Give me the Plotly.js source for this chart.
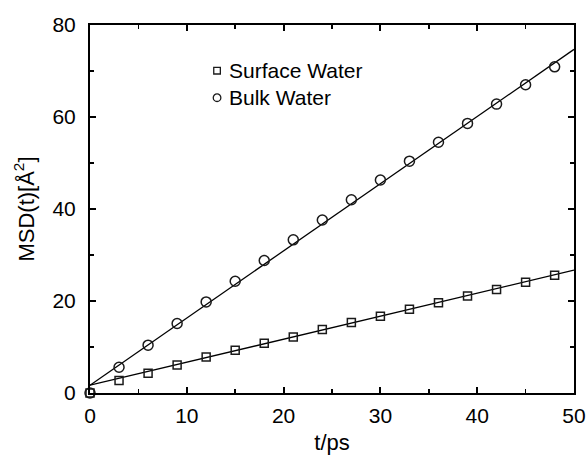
<!DOCTYPE html>
<html>
<head>
<meta charset="utf-8">
<script src="https://cdn.plot.ly/plotly-3.0.1.min.js"></script>
<style>html,body{margin:0;padding:0;background:#fff;}#chart{width:588px;height:455px;}</style>
</head>
<body>
<div id="chart"></div>
<script>
// time points (ps)
const timePs = [0, 3, 6, 9, 12, 15, 18, 21, 24, 27, 30, 33, 36, 39, 42, 45, 48];
// MSD values (Å^2)
const surfaceMSD = [0, 2.7, 4.3, 6.1, 7.8, 9.3, 10.8, 12.2, 13.8, 15.3, 16.7, 18.2, 19.6, 21.1, 22.5, 24.1, 25.6];
const bulkMSD = [0, 5.6, 10.4, 15.1, 19.8, 24.3, 28.8, 33.3, 37.6, 42.0, 46.3, 50.4, 54.5, 58.6, 62.8, 67.0, 70.9];
// linear fit lines (endpoints)
const fitT = [0, 50];
const surfaceFit = [1.7, 26.7];
const bulkFit = [1.7, 74.7];
const seriesNames = ["Surface Water", "Bulk Water"];

const font = "'Liberation Sans', Arial, Helvetica, sans-serif";
const ink = "#1a1a1a";

const traces = [
  {x: fitT, y: surfaceFit, mode: "lines", line: {color: "#000", width: 1.3}, showlegend: false, hoverinfo: "skip"},
  {x: fitT, y: bulkFit, mode: "lines", line: {color: "#000", width: 1.3}, showlegend: false, hoverinfo: "skip"},
  {x: timePs, y: surfaceMSD, mode: "markers", name: seriesNames[0], cliponaxis: false, showlegend: false,
   marker: {symbol: "square-open", size: 8, color: ink, line: {width: 1.5, color: ink}}},
  {x: timePs, y: bulkMSD, mode: "markers", name: seriesNames[1], cliponaxis: false, showlegend: false,
   marker: {symbol: "circle-open", size: 10, color: ink, line: {width: 1.5, color: ink}}}
];

const axisCommon = {
  showgrid: false, zeroline: false, showline: true, linecolor: "#000", linewidth: 2,
  mirror: "allticks", ticks: "inside", tickcolor: "#000", tickwidth: 2, ticklen: 6,
  tickfont: {family: font, size: 21, color: "#000"},
  minor: {ticks: "inside", ticklen: 4, tickwidth: 1.5, tickcolor: "#000"}
};

// legend drawn manually (paper coordinates)
const legX = 0.2625, legTextX = 0.2879, legY = [0.8758, 0.8024];
const layout = {
  width: 588, height: 455,
  margin: {l: 89.5, r: 14, t: 25, b: 62},
  paper_bgcolor: "#fff", plot_bgcolor: "#fff",
  font: {family: font, color: "#000"},
  showlegend: false,
  xaxis: Object.assign({}, axisCommon, {
    range: [0, 50], tickvals: [0, 10, 20, 30, 40, 50], ticklabelstandoff: 3,
    minor: Object.assign({}, axisCommon.minor, {dtick: 5, tick0: 0}),
    title: {text: "t/ps", font: {family: font, size: 22, color: "#000"}, standoff: 16}
  }),
  yaxis: Object.assign({}, axisCommon, {
    range: [0, 80], tickvals: [0, 20, 40, 60, 80], ticklabelstandoff: 8,
    minor: Object.assign({}, axisCommon.minor, {dtick: 10, tick0: 0}),
    title: {text: "MSD(t)[Å<sup>2</sup>]", font: {family: font, size: 22, color: "#000"}, standoff: 12}
  }),
  shapes: [
    {type: "rect", xref: "paper", yref: "paper", xsizemode: "pixel", ysizemode: "pixel",
     xanchor: legX, yanchor: legY[0], x0: -3.3, x1: 3.3, y0: -3.3, y1: 3.3,
     line: {color: ink, width: 1.3}, fillcolor: "rgba(0,0,0,0)"},
    {type: "circle", xref: "paper", yref: "paper", xsizemode: "pixel", ysizemode: "pixel",
     xanchor: legX, yanchor: legY[1], x0: -3.8, x1: 3.8, y0: -3.8, y1: 3.8,
     line: {color: ink, width: 1.3}, fillcolor: "rgba(0,0,0,0)"}
  ],
  annotations: seriesNames.map((n, i) => ({
    text: n, xref: "paper", yref: "paper", x: legTextX, y: legY[i], xanchor: "left", yanchor: "middle",
    showarrow: false, font: {family: font, size: 21, color: "#000"}, xshift: -2
  }))
};

Plotly.newPlot("chart", traces, layout, {staticPlot: true});
</script>
</body>
</html>
